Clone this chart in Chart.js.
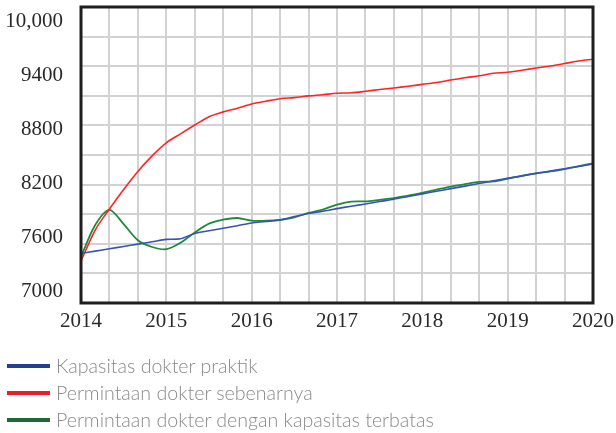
<!DOCTYPE html>
<html>
<head>
<meta charset="utf-8">
<script src="https://cdn.jsdelivr.net/npm/chart.js@4"></script>
<style>
  html, body { margin: 0; padding: 0; background: #ffffff; }
  #wrap { position: relative; width: 616px; height: 433px; overflow: hidden; }
  #c { position: absolute; left: 0; top: 0; }
  #legend { position: absolute; left: 0; top: 0; width: 616px; height: 433px; pointer-events: none; }
  .item { position: absolute; left: 0; height: 26px; }
  .swatch { position: absolute; left: 7px; width: 43px; height: 4px; }
  .label { position: absolute; left: 56px; white-space: nowrap; font-family: Lato, "Noto Sans", sans-serif; font-size: 19.6px; font-weight: 300; color: #8a8a8a; line-height: 20px; }
</style>
</head>
<body>
<div id="wrap">
  <canvas id="c" width="616" height="340"></canvas>
  <div id="legend"></div>
</div>
<script>
// months since Jan 2014
const months = [0,2,4,6,8,10,12,14,16,18,20,22,24,26,28,30,32,34,36,38,40,42,44,46,48,50,52,54,56,58,60,62,64,66,68,70,72];
const xTickLabels = ['2014','2015','2016','2017','2018','2019','2020'];
const yTickValues = [7000,7600,8200,8800,9400,10000];
const yTickLabels = ['7000','7600','8200','8800','9400','10,000'];
const seriesNames = ['Kapasitas dokter praktik','Permintaan dokter sebenarnya','Permintaan dokter dengan kapasitas terbatas'];
const kapasitas = [7426,7452,7478,7504,7530,7556,7582,7590,7648,7677,7705,7734,7763,7780,7799,7834,7868,7894,7923,7950,7974,8001,8027,8057,8086,8115,8144,8172,8201,8230,8258,8285,8313,8338,8365,8390,8417];
const permintaan = [7343,7686,7919,8135,8335,8507,8651,8751,8848,8941,8994,9035,9081,9112,9140,9152,9171,9184,9200,9205,9222,9242,9259,9277,9298,9319,9346,9372,9393,9421,9433,9455,9479,9502,9529,9557,9576];
const terbatas = [7391,7742,7910,7751,7573,7498,7474,7545,7659,7756,7801,7819,7789,7789,7797,7825,7875,7913,7966,8000,8003,8020,8038,8068,8097,8132,8167,8194,8218,8224,8254,8286,8313,8334,8360,8393,8424];

const lineColors = ['#3a52b2', '#ff2323', '#1f8a3d'];
const legendColors = ['#233f8f', '#ed1f26', '#1c6b32'];

function pts(arr) { return arr.map((v, i) => ({ x: 2014 + months[i] / 12, y: v })); }

const frame = {
  id: 'frame',
  afterDatasetsDraw(chart) {
    const a = chart.chartArea, ctx = chart.ctx;
    ctx.save();
    ctx.strokeStyle = '#1e1e1e';
    ctx.lineWidth = 3;
    ctx.strokeRect(a.left, a.top, a.right - a.left, a.bottom - a.top);
    ctx.restore();
  }
};

const chart = new Chart(document.getElementById('c'), {
  type: 'line',
  data: {
    datasets: [
      { label: seriesNames[0], data: pts(kapasitas), borderColor: lineColors[0], borderWidth: 1.6, pointRadius: 0, tension: 0.3, legendColor: legendColors[0] },
      { label: seriesNames[1], data: pts(permintaan), borderColor: lineColors[1], borderWidth: 1.6, pointRadius: 0, tension: 0.3, legendColor: legendColors[1] },
      { label: seriesNames[2], data: pts(terbatas), borderColor: lineColors[2], borderWidth: 1.8, pointRadius: 0, tension: 0.3, legendColor: legendColors[2] }
    ]
  },
  options: {
    responsive: false,
    devicePixelRatio: 1,
    animation: false,
    layout: { padding: { left: 0, top: 7, right: 23, bottom: 0 } },
    plugins: { legend: { display: false }, tooltip: { enabled: false } },
    scales: {
      x: {
        type: 'linear', position: 'bottom', min: 2014, max: 2020,
        afterBuildTicks(s) {
          const t = [];
          for (let k = 0; k <= 18; k++) t.push({ value: 2014 + k / 3 });
          s.ticks = t;
        },
        afterFit(s) { s.height = 37; s.paddingLeft = 0; s.paddingRight = 0; },
        grid: { color: '#d2d2d2', lineWidth: 2, drawTicks: false },
        border: { display: false },
        ticks: {
          autoSkip: false, maxRotation: 0, padding: 6, color: '#2a2a2a',
          font: { family: '"Liberation Serif", "DejaVu Serif", serif', size: 21 },
          callback(v) {
            const r = Math.round(v);
            if (Math.abs(v - r) < 1e-6) { const i = r - 2014; return xTickLabels[i]; }
            return '';
          }
        }
      },
      y: {
        type: 'linear', position: 'left', min: 6878, max: 10155,
        afterBuildTicks(s) { s.ticks = yTickValues.map(v => ({ value: v })); },
        afterFit(s) { s.width = 81; s.paddingTop = 0; s.paddingBottom = 0; },
        grid: { display: false, drawTicks: false },
        border: { display: false },
        ticks: {
          padding: 18, color: '#2a2a2a',
          font: { family: '"Liberation Serif", "DejaVu Serif", serif', size: 21 },
          callback(v) { const i = yTickValues.indexOf(v); return i >= 0 ? yTickLabels[i] : ''; }
        }
      },
      yg: {
        type: 'linear', position: 'left', min: 0, max: 10,
        afterBuildTicks(s) {
          const t = [];
          for (let k = 0; k <= 10; k++) t.push({ value: k });
          s.ticks = t;
        },
        afterFit(s) { s.width = 0; s.paddingTop = 0; s.paddingBottom = 0; },
        grid: { color: '#d2d2d2', lineWidth: 2, drawTicks: false },
        border: { display: false },
        ticks: { display: false }
      }
    }
  },
  plugins: [frame]
});

// HTML legend built from the chart's datasets
const legend = document.getElementById('legend');
const legendTops = [366, 393, 420];
chart.data.datasets.forEach((ds, i) => {
  const item = document.createElement('div');
  item.className = 'item';
  item.style.top = (legendTops[i] - 13) + 'px';
  const sw = document.createElement('div');
  sw.className = 'swatch';
  sw.style.top = '11px';
  sw.style.background = ds.legendColor;
  const lb = document.createElement('div');
  lb.className = 'label';
  lb.style.top = '3px';
  lb.textContent = ds.label;
  item.appendChild(sw);
  item.appendChild(lb);
  legend.appendChild(item);
});
</script>
</body>
</html>
